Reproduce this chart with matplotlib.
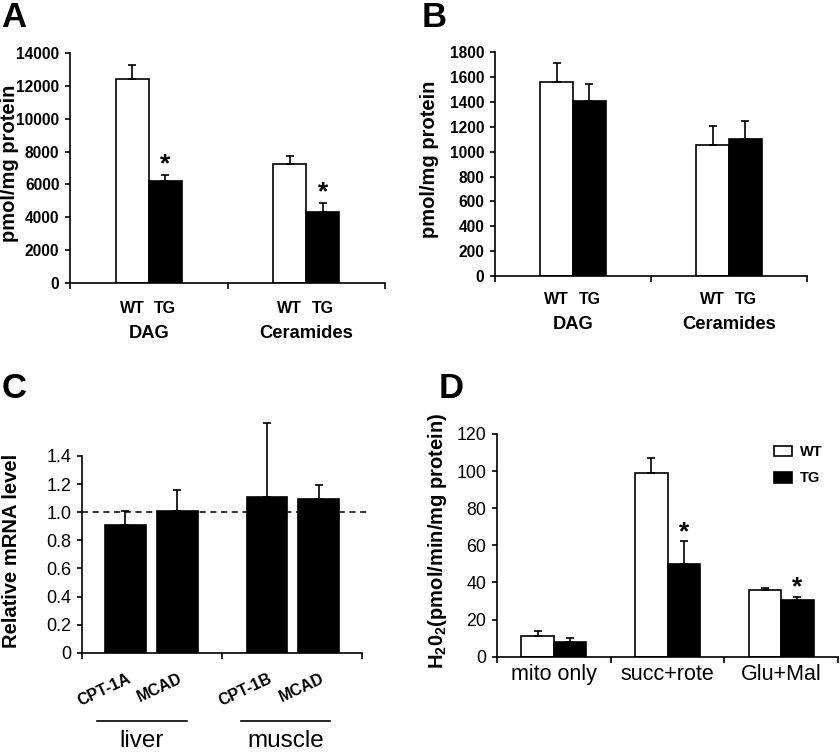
import matplotlib
matplotlib.use('Agg')
import matplotlib.pyplot as plt
import numpy as np
from matplotlib.transforms import blended_transform_factory as btf

plt.rcParams['font.family'] = ['Liberation Sans', 'DejaVu Sans']
plt.rcParams['mathtext.default'] = 'regular'

# ---------------- data ----------------
a_groups = ['DAG', 'Ceramides']
a_series = ['WT', 'TG']
a_wt = [12400, 7250]
a_wt_err = [850, 500]
a_tg = [6200, 4350]
a_tg_err = [350, 500]
a_sig = [True, True]
a_yticks = [0, 2000, 4000, 6000, 8000, 10000, 12000, 14000]

b_groups = ['DAG', 'Ceramides']
b_wt = [1560, 1055]
b_wt_err = [155, 155]
b_tg = [1410, 1105]
b_tg_err = [135, 145]
b_yticks = [0, 200, 400, 600, 800, 1000, 1200, 1400, 1600, 1800]

c_genes = ['CPT-1A', 'MCAD', 'CPT-1B', 'MCAD']
c_tissues = ['liver', 'muscle']
c_vals = [0.91, 1.01, 1.105, 1.095]
c_err = [0.10, 0.145, 0.53, 0.10]
c_yticks = [0, 0.2, 0.4, 0.6, 0.8, 1.0, 1.2, 1.4]
c_yticklabels = ['0', '0.2', '0.4', '0.6', '0.8', '1.0', '1.2', '1.4']

d_conditions = ['mito only', 'succ+rote', 'Glu+Mal']
d_wt = [11.3, 99, 35.8]
d_wt_err = [2.4, 8.2, 1.0]
d_tg = [8.1, 49.8, 30.4]
d_tg_err = [2.1, 12.5, 1.9]
d_sig = [False, True, True]
d_yticks = [0, 20, 40, 60, 80, 100, 120]

# ---------------- layout helpers ----------------
W, H = 840, 752
fig = plt.figure(figsize=(8.4, 7.52), dpi=100)
LW = 1.2


def ax_px(x0, y0, x1, y1):
    return fig.add_axes([x0 / W, 1 - y1 / H, (x1 - x0) / W, (y1 - y0) / H])


def yfrac(ypx, top, bottom):
    return (bottom - ypx) / (bottom - top)


def style(ax, size, bold):
    for s in ['top', 'right']:
        ax.spines[s].set_visible(False)
    for s in ['left', 'bottom']:
        ax.spines[s].set_linewidth(LW)
    ax.tick_params(axis='y', which='major', direction='out', length=3.6,
                   width=LW, labelsize=size, pad=4)
    ax.tick_params(axis='x', which='major', direction='out', length=4.2,
                   width=LW, labelbottom=False)
    if bold:
        for lab in ax.get_yticklabels():
            lab.set_fontweight('bold')


def bars(ax, x, vals, errs, color, width, label=None):
    b = ax.bar(x, vals, width, color=color, edgecolor='black', linewidth=LW,
               zorder=2, label=label)
    ax.errorbar(x, vals, yerr=[np.zeros(len(vals)), errs], fmt='none',
                ecolor='black', elinewidth=LW, capsize=2.6, capthick=LW,
                zorder=3)
    return b


# ---------------- Panel A & B ----------------
def panel_ab(box, groups, wt, wt_err, tg, tg_err, yticks, sig, letter, lpos,
             lab_y1, lab_y2, ylabel_x):
    x0, y0, x1, y1 = box
    ax = ax_px(*box)
    n = len(groups)
    centers = np.arange(n) + 0.5
    w = 0.21
    bars(ax, centers - w / 2, wt, wt_err, 'white', w)
    bars(ax, centers + w / 2, tg, tg_err, 'black', w)
    ax.set_xlim(0, n)
    ax.set_ylim(yticks[0], yticks[-1])
    ax.set_yticks(yticks)
    ax.set_xticks(np.arange(n + 1))
    style(ax, 11.2, True)
    tr = btf(ax.transData, ax.transAxes)
    for i, c in enumerate(centers):
        ax.text(c - w / 2, yfrac(lab_y1, y0, y1), 'WT', transform=tr,
                ha='center', va='top', fontsize=11.5, fontweight='bold')
        ax.text(c + w / 2, yfrac(lab_y1, y0, y1), 'TG', transform=tr,
                ha='center', va='top', fontsize=11.5, fontweight='bold')
        ax.text(c, yfrac(lab_y2, y0, y1), groups[i], transform=tr,
                ha='center', va='top', fontsize=13.2, fontweight='bold')
        if sig[i]:
            ax.annotate('*', xy=(c + w / 2, tg[i] + tg_err[i]),
                        xytext=(0, -1), textcoords='offset points',
                        ha='center', va='bottom', fontsize=19,
                        fontweight='bold')
    ax.set_ylabel('pmol/mg protein', fontsize=14.5, fontweight='bold',
                  va='center')
    ax.yaxis.set_label_coords(ylabel_x / W, 1 - ((y0 + y1) / 2 - 5) / H,
                              transform=fig.transFigure)
    fig.text(lpos[0] / W, 1 - lpos[1] / H, letter, fontsize=25,
             fontweight='bold', ha='left', va='top')
    return ax


panel_ab((70, 53, 385, 283), a_groups, a_wt, a_wt_err, a_tg, a_tg_err,
         a_yticks, a_sig, 'A', (1, 1), 301, 325, 10)
panel_ab((495, 52.3, 807, 276), b_groups, b_wt, b_wt_err, b_tg, b_tg_err,
         b_yticks, [False, False], 'B', (422, 1), 291.5, 316, 430)

# ---------------- Panel C ----------------
cbox = (82, 456, 362, 652.7)
axc = ax_px(*cbox)
c_x = np.array([0.31, 0.68, 1.32, 1.69])
c_w = 0.29
bars(axc, c_x, c_vals, c_err, 'black', c_w)
axc.set_xlim(0, 2)
axc.set_ylim(0, 1.4)
axc.set_yticks(c_yticks)
axc.set_yticklabels(c_yticklabels)
axc.set_xticks([0, 1, 2])
style(axc, 13, False)
for e in axc.get_children():
    if e.__class__.__name__ in ('LineCollection', 'Line2D'):
        e.set_clip_on(False)
axc.axhline(1.0, xmin=0, xmax=(370 - 82) / (362 - 82), color='black',
            lw=1.1, ls=(0, (4, 3)), clip_on=False, zorder=1)
trc = btf(axc.transData, axc.transAxes)
for x, g in zip(c_x, c_genes):
    axc.text(x + 0.01, yfrac(671, cbox[1], cbox[3]), g, transform=trc,
             rotation=25, rotation_mode='anchor', ha='right', va='top',
             fontsize=11.5, fontweight='bold')
line_spans = [(0.107, 0.75), (1.136, 1.771)]
for (xa, xb), t in zip(line_spans, c_tissues):
    yl = yfrac(721, cbox[1], cbox[3])
    axc.plot([xa, xb], [yl, yl], color='black', lw=LW, transform=trc,
             clip_on=False)
    axc.text((xa + xb) / 2, yfrac(730, cbox[1], cbox[3]), t, transform=trc,
             ha='center', va='top', fontsize=17.5)
axc.set_ylabel('Relative mRNA level', fontsize=14.5, fontweight='bold',
               va='center')
axc.yaxis.set_label_coords(12 / W, 1 - 551 / H, transform=fig.transFigure)
fig.text(2 / W, 1 - 372 / H, 'C', fontsize=25, fontweight='bold',
         ha='left', va='top')

# ---------------- Panel D ----------------
dbox = (497, 434, 838, 656.7)
axd = ax_px(*dbox)
d_c = np.arange(len(d_conditions)) + 0.5
d_w = 0.287
bwt = bars(axd, d_c - d_w / 2, d_wt, d_wt_err, 'white', d_w, label='WT')
btg = bars(axd, d_c + d_w / 2, d_tg, d_tg_err, 'black', d_w, label='TG')
axd.set_xlim(0, 3)
axd.set_ylim(0, 120)
axd.set_yticks(d_yticks)
axd.set_xticks([0, 1, 2, 3])
style(axd, 12.8, False)
axd.set_xticks(d_c, minor=True)
axd.set_xticklabels(d_conditions, minor=True)
axd.tick_params(axis='x', which='minor', length=0, labelsize=15.5, pad=5,
                labelbottom=True)
for i, c in enumerate(d_c):
    if d_sig[i]:
        axd.annotate('*', xy=(c + d_w / 2, d_tg[i] + d_tg_err[i]),
                     xytext=(0, -2), textcoords='offset points',
                     ha='center', va='bottom', fontsize=19,
                     fontweight='bold')
axd.legend(handles=[bwt, btg], loc='upper left',
           bbox_to_anchor=(774 / W, 1 - 445 / H),
           bbox_transform=fig.transFigure, frameon=False,
           prop={'weight': 'bold', 'size': 10.5}, handlelength=1.25,
           handleheight=0.75, handletextpad=0.5, labelspacing=0.85,
           borderpad=0, borderaxespad=0)
axd.set_ylabel(r'H$_2$0$_2$(pmol/min/mg protein)', fontsize=14.5,
               fontweight='bold', va='center')
axd.yaxis.set_label_coords(437 / W, 1 - 541 / H, transform=fig.transFigure)
fig.text(439 / W, 1 - 372 / H, 'D', fontsize=25, fontweight='bold',
         ha='left', va='top')

fig.savefig('out.png', dpi=100)
